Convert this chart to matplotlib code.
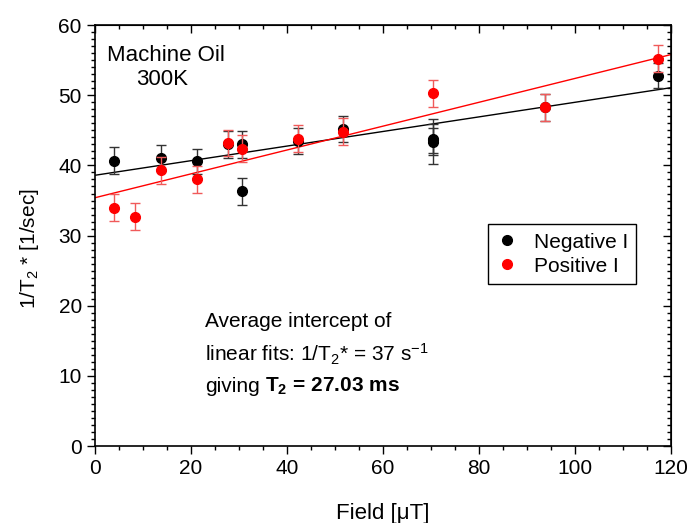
import matplotlib
matplotlib.use("Agg")
import matplotlib.pyplot as plt
import numpy as np
from matplotlib.ticker import MultipleLocator
from matplotlib.lines import Line2D

plt.rcParams["font.family"] = ["Liberation Sans", "DejaVu Sans"]
plt.rcParams["mathtext.fontset"] = "custom"
plt.rcParams["mathtext.rm"] = "Liberation Sans"
plt.rcParams["mathtext.it"] = "Liberation Sans"
plt.rcParams["mathtext.bf"] = "Liberation Sans:bold"

# Negative I: field [uT], 1/T2* [1/sec], error
neg_field = [4.0, 13.8, 21.2, 27.8, 30.6, 30.6, 42.3, 51.6, 70.4, 70.4, 70.4, 93.8, 117.2]
neg_rate = [40.7, 41.1, 40.6, 43.0, 43.0, 36.3, 43.5, 45.2, 43.4, 43.7, 43.6, 48.3, 52.8]
neg_err = [1.9, 1.85, 1.8, 1.9, 1.9, 1.9, 1.9, 1.9, 3.2, 2.25, 1.8, 1.9, 1.8]

# Positive I
pos_field = [4.0, 8.3, 13.7, 21.2, 27.8, 30.6, 42.3, 51.6, 70.4, 93.8, 117.2]
pos_rate = [34.0, 32.7, 39.3, 38.0, 43.2, 42.4, 43.8, 44.8, 50.3, 48.3, 55.2]
pos_err = [1.9, 1.9, 1.9, 1.9, 1.9, 1.9, 1.9, 1.9, 1.9, 1.9, 1.9]

# linear fits (intercept, slope)
neg_fit = [38.6, 0.104]
pos_fit = [35.4, 0.170]

fig = plt.figure(figsize=(6.91, 5.23), dpi=100)
ax = fig.add_axes([0.1375, 0.147, 0.8335, 0.805])

xf = np.array([0, 120])
ax.plot(xf, neg_fit[0] + neg_fit[1] * xf, color="black", lw=1, zorder=2)
ax.plot(xf, pos_fit[0] + pos_fit[1] * xf, color="red", lw=1, zorder=2)

ax.errorbar(neg_field, neg_rate, yerr=neg_err, fmt="o", color="black", ecolor="#333333",
            ms=7, elinewidth=1, capsize=3.5, capthick=1, zorder=3)
ax.errorbar(pos_field, pos_rate, yerr=pos_err, fmt="o", color="red", ecolor="#f05a5a",
            ms=7, elinewidth=1, capsize=3.5, capthick=1, zorder=4)

ax.set_xlim(0, 120)
ax.set_ylim(0, 60)
ax.xaxis.set_major_locator(MultipleLocator(20))
ax.xaxis.set_minor_locator(MultipleLocator(5))
ax.yaxis.set_major_locator(MultipleLocator(10))
ax.yaxis.set_minor_locator(MultipleLocator(1))
ax.tick_params(axis="both", which="both", labelsize=15, width=1, direction="out")
ax.tick_params(which="major", length=6)
ax.tick_params(which="minor", length=3)
for s in ax.spines.values():
    s.set_linewidth(1.2)

# mirrored axes with inward ticks
top = ax.secondary_xaxis("top")
top.xaxis.set_major_locator(MultipleLocator(20))
top.xaxis.set_minor_locator(MultipleLocator(5))
top.tick_params(which="both", direction="in", labeltop=False, width=1)
top.tick_params(which="major", length=6)
top.tick_params(which="minor", length=3)
right = ax.secondary_yaxis("right")
right.yaxis.set_major_locator(MultipleLocator(10))
right.yaxis.set_minor_locator(MultipleLocator(1))
right.tick_params(which="both", direction="in", labelright=False, width=1)
right.tick_params(which="major", length=6)
right.tick_params(which="minor", length=3)

ax.set_xlabel("Field [μT]", fontsize=16, labelpad=18)
ax.set_ylabel("1/T$_2$ * [1/sec]", fontsize=15)
ax.yaxis.set_label_coords(-0.094, 0.47)

ax.text(14.8, 55.7, "Machine Oil", fontsize=16, ha="center", va="center")
ax.text(14.0, 52.2, "300K", fontsize=16, ha="center", va="center")

ax.text(23, 17.7, "Average intercept of", fontsize=15, va="center")
ax.text(23, 13.1, "linear fits: 1/T$_2$* = 37 s$^{-1}$", fontsize=15, va="center")

# last line: normal "giving" followed by a bold part
t_giv = ax.text(23, 7.7, "giving", fontsize=15, va="baseline")
fig.canvas.draw()
bb = t_giv.get_window_extent()
x_bold = ax.transData.inverted().transform((bb.x1 + 5, 0))[0]
ax.text(x_bold, 7.7, r"$\mathbf{T_2}$ = 27.03 ms", fontsize=15, fontweight="bold",
        va="baseline")

handles = [
    Line2D([], [], marker="o", ls="none", color="black", ms=7),
    Line2D([], [], marker="o", ls="none", color="red", ms=7),
]
leg = ax.legend(handles, ["Negative I", "Positive I"], loc="upper left",
                bbox_to_anchor=(0.682, 0.527), borderaxespad=0, fontsize=15,
                fancybox=False, edgecolor="black", framealpha=1, handlelength=1.0,
                handletextpad=0.8, borderpad=0.4, labelspacing=0.25)
leg.get_frame().set_linewidth(1)

fig.savefig("out.png", dpi=100)
